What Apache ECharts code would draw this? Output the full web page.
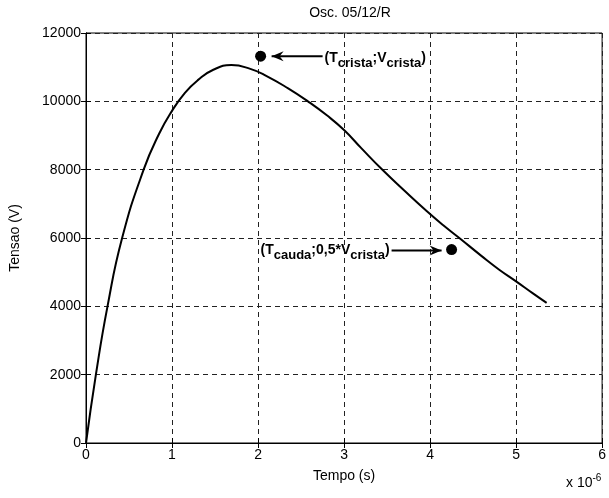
<!DOCTYPE html>
<html>
<head>
<meta charset="utf-8">
<script src="https://cdn.jsdelivr.net/npm/echarts@6/dist/echarts.min.js"></script>
<style>
html,body{margin:0;padding:0;background:#fff;}
#chart{width:609px;height:498px;}
</style>
</head>
<body>
<div id="chart"></div>
<script>
// Time in units of 1e-6 s
const timeUs = [0, 0.115, 0.25, 0.42, 0.67, 0.85, 1.0, 1.15, 1.3, 1.48, 1.69, 1.91, 2.1, 2.35, 2.58, 2.8, 3.0, 3.2, 3.44, 3.7, 3.96, 4.15, 4.34, 4.6, 4.8, 5.0, 5.2, 5.355];
const voltage = [0, 2000, 4000, 6000, 8000, 9050, 9720, 10250, 10620, 10925, 11060, 10950, 10740, 10380, 10000, 9590, 9160, 8630, 8010, 7390, 6790, 6380, 6000, 5470, 5080, 4730, 4370, 4100];
const crestPoint = [2.03, 11320];
const tailPoint = [4.25, 5660];
const xTicks = [0, 1, 2, 3, 4, 5, 6];
const yTicks = [0, 2000, 4000, 6000, 8000, 10000, 12000];
const titleText = 'Osc. 05/12/R';
const xName = 'Tempo (s)';
const yName = 'Tensao (V)';

const FONT = '"Liberation Sans", Arial, Helvetica, sans-serif';
const chart = echarts.init(document.getElementById('chart'), null, {renderer: 'canvas'});

const gridLine = {show: true, lineStyle: {color: '#222', type: [5, 4], width: 1}};
const axisBase = {
  type: 'value',
  axisLine: {show: true, lineStyle: {color: '#000', width: 1}},
  axisTick: {show: true, inside: true, length: 5, lineStyle: {color: '#000'}},
  axisLabel: {color: '#000', fontFamily: FONT, fontSize: 14, formatter: v => String(v)}
};

chart.setOption({
  animation: false,
  backgroundColor: '#fff',
  title: {
    text: titleText, left: 345, top: 1, textAlign: 'center',
    textStyle: {fontFamily: FONT, fontSize: 14, fontWeight: 'normal', color: '#000'}
  },
  grid: {left: 85, right: 3, top: 33, bottom: 55, show: true, borderColor: '#000', borderWidth: 1, backgroundColor: '#fff'},
  xAxis: [
    Object.assign({}, axisBase, {
      min: xTicks[0], max: xTicks[xTicks.length - 1], interval: 1,
      splitLine: gridLine,
      axisLabel: Object.assign({}, axisBase.axisLabel, {margin: 5}),
      name: xName, nameLocation: 'middle', nameGap: 26,
      nameTextStyle: {fontFamily: FONT, fontSize: 14, color: '#000'}
    }),
    Object.assign({}, axisBase, {
      position: 'top', min: 0, max: 6, interval: 1,
      axisLabel: {show: false}, splitLine: {show: false}
    })
  ],
  yAxis: [
    Object.assign({}, axisBase, {
      min: yTicks[0], max: yTicks[yTicks.length - 1], interval: 2000,
      splitLine: gridLine,
      axisLabel: Object.assign({}, axisBase.axisLabel, {margin: 5}),
      name: yName, nameLocation: 'middle', nameGap: 64,
      nameTextStyle: {fontFamily: FONT, fontSize: 14, color: '#000'}
    }),
    Object.assign({}, axisBase, {
      position: 'right', min: 0, max: 12000, interval: 2000,
      axisLabel: {show: false}, splitLine: {show: false}
    })
  ],
  series: [
    {
      type: 'line', xAxisIndex: 0, yAxisIndex: 0,
      data: timeUs.map((t, i) => [t, voltage[i]]),
      smooth: 0.5, symbol: 'none',
      lineStyle: {color: '#000', width: 2}
    },
    {
      type: 'scatter', xAxisIndex: 0, yAxisIndex: 0,
      data: [crestPoint, tailPoint],
      symbol: 'circle', symbolSize: 11,
      itemStyle: {color: '#000', opacity: 1}
    }
  ]
});

// Annotations placed relative to the dots
function annotations() {
  const pc = chart.convertToPixel({xAxisIndex: 0, yAxisIndex: 0}, crestPoint);
  const pt = chart.convertToPixel({xAxisIndex: 0, yAxisIndex: 0}, tailPoint);
  const rich = {
    m: {fontFamily: FONT, fontSize: 14, fontWeight: 'bold', color: '#000'},
    s: {fontFamily: FONT, fontSize: 13, fontWeight: 'bold', color: '#000', padding: [10, 0, 0, 0]}
  };
  const arrow = (x1, y, x2) => ([
    {type: 'line', shape: {x1: x1, y1: y, x2: x2, y2: y}, style: {stroke: '#000', lineWidth: 2}},
    {type: 'polygon', shape: {points: x2 < x1
      ? [[x2, y], [x2 + 12, y - 5], [x2 + 8, y], [x2 + 12, y + 5]]
      : [[x2, y], [x2 - 12, y - 5], [x2 - 8, y], [x2 - 12, y + 5]]}, style: {fill: '#000'}}
  ]);
  const els = [];
  els.push(...arrow(pc[0] + 62, pc[1], pc[0] + 11));
  els.push({type: 'text', x: pc[0] + 64, y: pc[1] + 2,
    style: {text: '{m|(T}{s|crista}{m|;V}{s|crista}{m|)}', rich: rich, verticalAlign: 'middle', align: 'left'}});
  els.push(...arrow(pt[0] - 60, pt[1] + 1, pt[0] - 10));
  els.push({type: 'text', x: pt[0] - 62, y: pt[1] + 1,
    style: {text: '{m|(T}{s|cauda}{m|;0,5*V}{s|crista}{m|)}', rich: rich, verticalAlign: 'middle', align: 'right'}});
  els.push({type: 'text', x: 566, y: 473,
    style: {text: '{m|x 10}{e|-6}', rich: {
      m: {fontFamily: FONT, fontSize: 14, color: '#000'},
      e: {fontFamily: FONT, fontSize: 10, color: '#000', padding: [0, 0, 10, 0]}
    }, verticalAlign: 'top'}});
  chart.setOption({graphic: els});
}
annotations();
</script>
</body>
</html>
